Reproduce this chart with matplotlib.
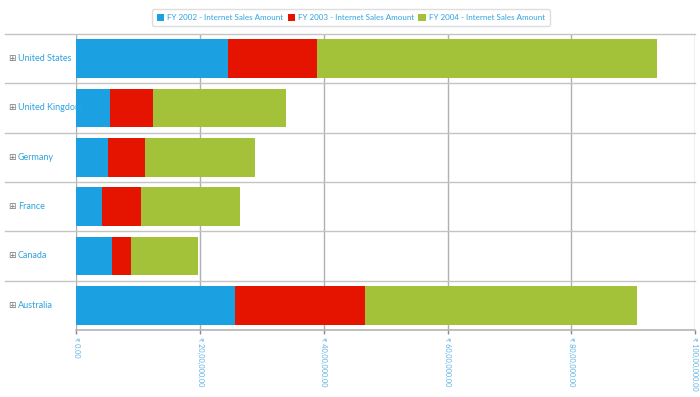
import matplotlib
matplotlib.use("Agg")
import matplotlib.pyplot as plt
from matplotlib.lines import Line2D
from matplotlib.patches import Patch
import numpy as np

countries = ["United States", "United Kingdom", "Germany", "France", "Canada", "Australia"]
series_names = ["FY 2002 - Internet Sales Amount", "FY 2003 - Internet Sales Amount",
                "FY 2004 - Internet Sales Amount"]
fy2002 = [2.45e6, 0.545e6, 0.513e6, 0.41e6, 0.57e6, 2.57e6]
fy2003 = [1.44e6, 0.70e6, 0.60e6, 0.64e6, 0.31e6, 2.10e6]
fy2004 = [5.49e6, 2.14e6, 1.78e6, 1.59e6, 1.08e6, 4.39e6]
tick_values = [0, 2e6, 4e6, 6e6, 8e6, 10e6]
tick_labels = ["₹ 0.00", "₹ 20,00,000.00", "₹ 40,00,000.00", "₹ 60,00,000.00",
               "₹ 80,00,000.00", "₹ 100,00,000.00"]

colors = ["#1ba1e2", "#e51400", "#a3c139"]
text_blue = "#2ea3de"
FONT = ["Lato", "DejaVu Sans"]

W, H = 700, 397
fig = plt.figure(figsize=(W / 100, H / 100), dpi=100)
fig.patch.set_facecolor("white")

x0, x1, ytop, ybot = 76.3, 695, 34, 330
ax = fig.add_axes([x0 / W, 1 - ybot / H, (x1 - x0) / W, (ybot - ytop) / H])

y = np.arange(len(countries))
left = np.zeros(len(countries))
for vals, c in zip([fy2002, fy2003, fy2004], colors):
    ax.barh(y, vals, left=left, height=0.79, color=c, zorder=3, linewidth=0)
    left = left + np.array(vals)

ax.set_ylim(len(countries) - 0.5, -0.5)
ax.set_xlim(0, 10e6)
ax.set_xticks(tick_values)
ax.set_xticklabels(tick_labels, rotation=-90, fontsize=5.3, color="#5fb2e3",
                   family=FONT, va="top", ha="center")
ax.tick_params(axis="x", length=3, width=1, color="#888888", pad=2)
ax.set_yticks([])
for s in ["top", "left", "right"]:
    ax.spines[s].set_visible(False)
ax.spines["bottom"].set_color("#b4b4b4")
ax.spines["bottom"].set_linewidth(1.2)

for tv in tick_values:
    ax.axvline(tv, color="#b0b0b0", lw=1.0, zorder=1)

lext = -(x0 - 5) / (x1 - x0)
for k in range(len(countries)):
    ax.axhline(k - 0.5, xmin=lext, xmax=1, color="#c4c4c4", lw=1.0, zorder=2, clip_on=False)
ax.add_artist(Line2D([5 / W, 5 / W], [1 - ybot / H, 1 - ytop / H], transform=fig.transFigure,
                     color="#d0d0d0", lw=1.0))

for k, name in enumerate(countries):
    ax.text(lext + 6.5 / (x1 - x0), k, "⊞", transform=ax.get_yaxis_transform(),
            fontsize=6.5, color="#777777", va="center", ha="center", family="DejaVu Sans",
            clip_on=False)
    ax.text(lext + 13 / (x1 - x0), k, name, transform=ax.get_yaxis_transform(),
            fontsize=6.5, color=text_blue, va="center", ha="left", family=FONT, clip_on=False)

handles = [Patch(facecolor=c, edgecolor="none") for c in colors]
leg = fig.legend(handles, series_names, loc="upper center", bbox_to_anchor=(351 / W, 1 - 5 / H),
                 ncol=3, frameon=True, fancybox=True, handlelength=0.9,
                 handleheight=0.9, handletextpad=0.4, columnspacing=0.5, borderpad=0.6,
                 prop={"family": FONT, "size": 5.8})
leg.get_frame().set_edgecolor("#d6d6d6")
leg.get_frame().set_linewidth(1.0)
for t in leg.get_texts():
    t.set_color(text_blue)

fig.savefig("out.png", dpi=100)
